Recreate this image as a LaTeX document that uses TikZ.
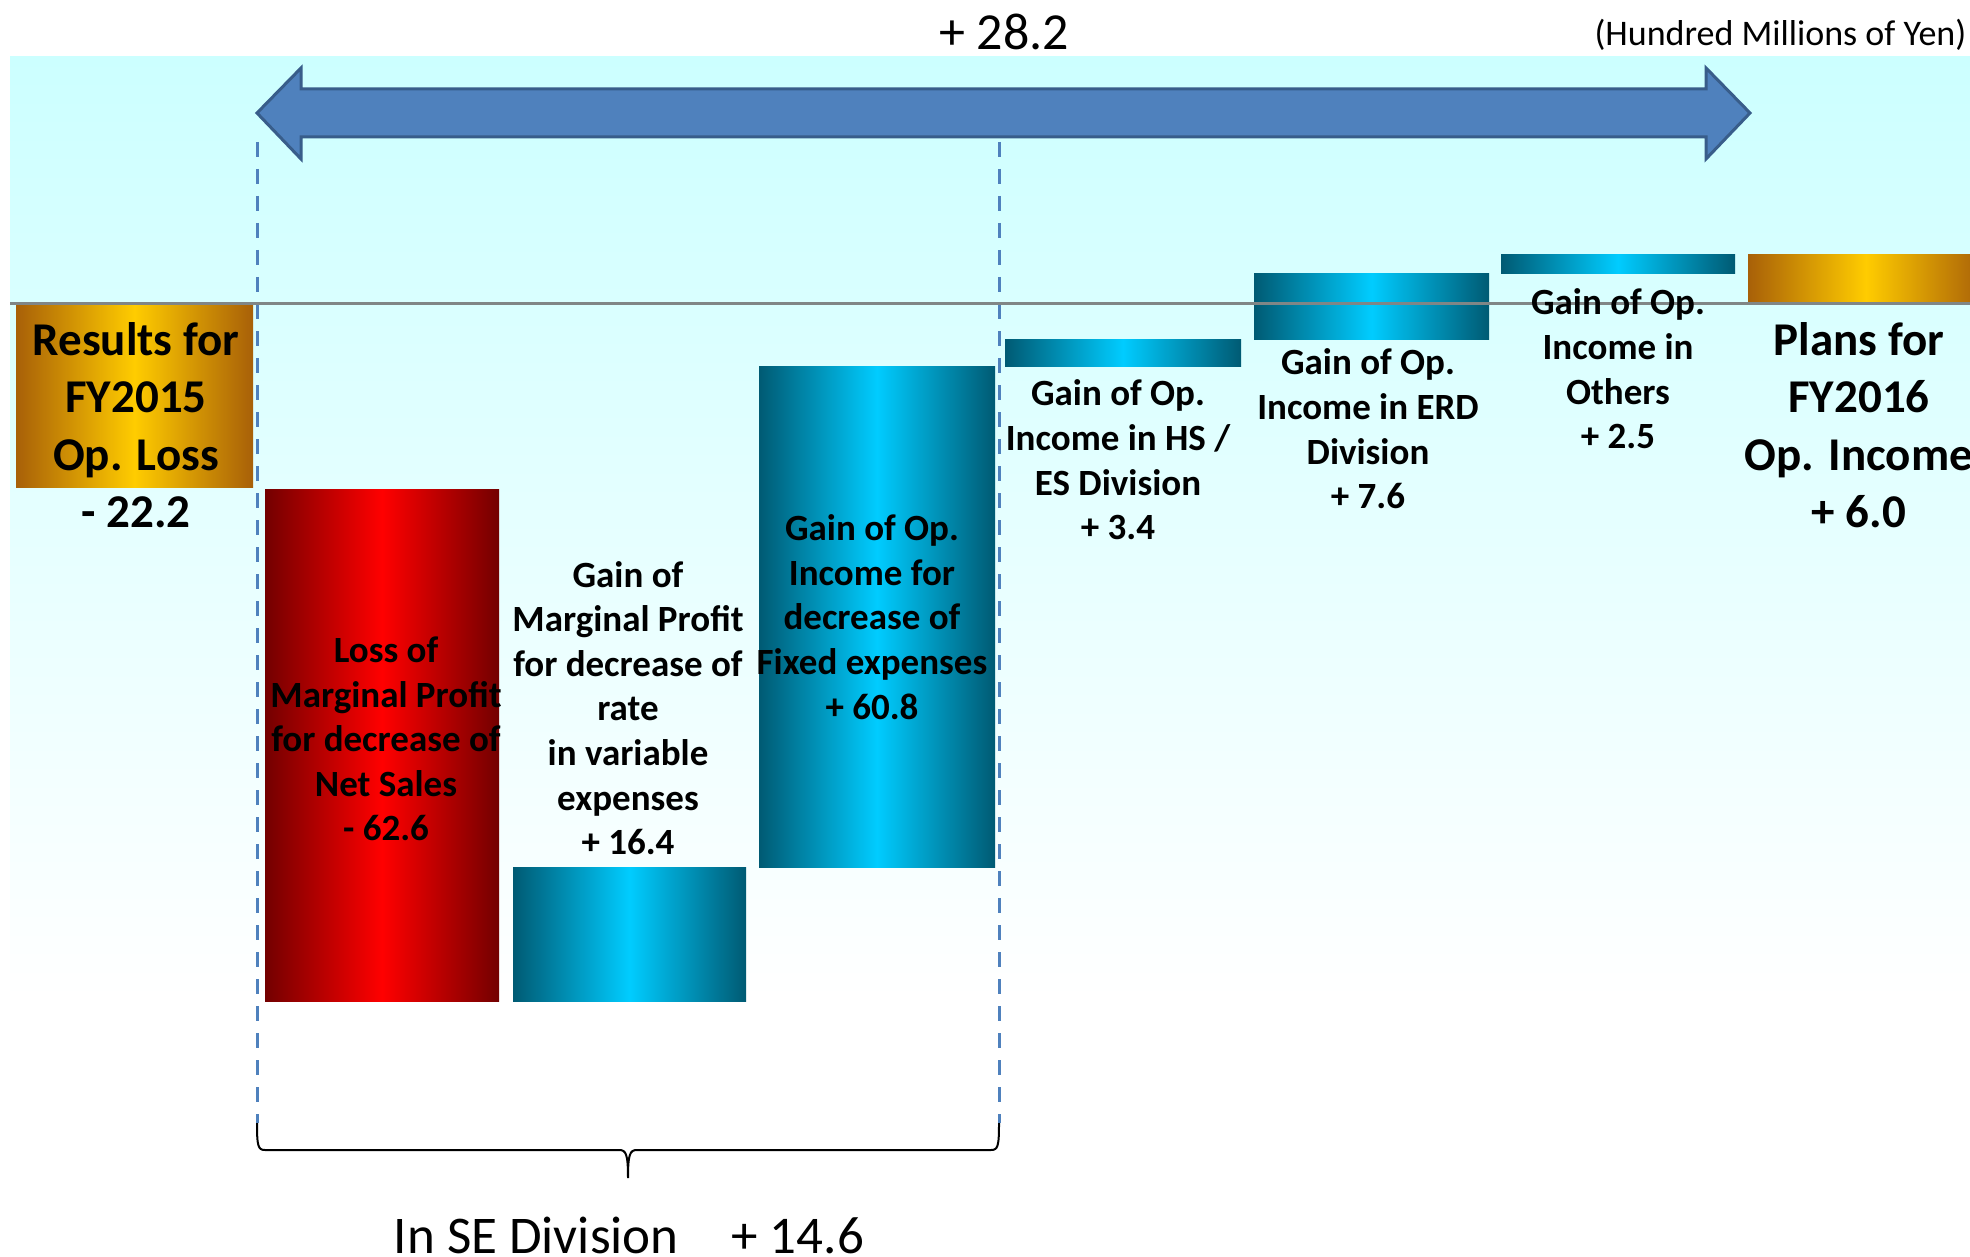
\documentclass[tikz,border=0pt]{standalone}
\usepackage{fontspec}
\setmainfont{Carlito}
\definecolor{skytop}{RGB}{204,255,255}
\definecolor{arrowblue}{HTML}{4F81BD}
\definecolor{arrowedge}{HTML}{385D8A}
\definecolor{goldmid}{RGB}{255,204,0}
\definecolor{goldedge}{RGB}{168,96,8}
\definecolor{redmid}{RGB}{255,0,0}
\definecolor{rededge}{RGB}{115,0,0}
\definecolor{tealmid}{RGB}{0,204,255}
\definecolor{tealedge}{RGB}{0,90,115}
\definecolor{zerogray}{RGB}{128,134,134}

\tikzset{
  bar/.style={anchor=north west, inner sep=0pt, outer sep=0pt},
  goldbar/.style={bar, left color=goldedge, right color=goldedge, middle color=goldmid},
  redbar/.style={bar, left color=rededge, right color=rededge, middle color=redmid},
  tealbar/.style={bar, left color=tealedge, right color=tealedge, middle color=tealmid},
  lbl/.style={align=center, inner sep=0pt, font=\fontsize{37}{44.6}\selectfont\bfseries},
  biglbl/.style={align=center, inner sep=0pt, font=\fontsize{47}{57.4}\selectfont\bfseries},
  sedash/.style={draw=arrowblue, line width=3pt, dash pattern=on 15pt off 12pt},
}

\begin{document}
\begin{tikzpicture}[x=1pt, y=-1pt]
  \clip (0,0) rectangle (1970,1257);
  % background
  \shade[top color=skytop, bottom color=white] (10,57) rectangle (1970,1000);

  % big span arrow
  \fill[arrowblue, draw=arrowedge, line width=3pt, line join=miter]
    (257,113) -- (301,68) -- (301,89) -- (1706,89) -- (1706,68) -- (1750,113)
    -- (1706,159) -- (1706,137) -- (301,137) -- (301,159) -- cycle;
  \node[font=\fontsize{52}{60}\selectfont] (span) at (1004,32) {+ 28.2};
  \node[anchor=west, font=\fontsize{36}{42}\selectfont] (unit) at (1591,35) {(Hundred Millions of Yen)};

  % dashed SE limits
  \coordinate (seLtop) at (257,142);
  \coordinate (seLbot) at (257,1123);
  \coordinate (seRtop) at (999,142);
  \coordinate (seRbot) at (999,1123);
  \draw[sedash] (seLtop) -- (seLbot);
  \draw[sedash] (seRtop) -- (seRbot);

  % bars
  \node[goldbar, minimum width=237pt, minimum height=183pt] (fy15) at (16,304) {};
  \node[redbar, minimum width=234pt, minimum height=512pt] (lossns) at (265,489) {};
  \node[tealbar, minimum width=233pt, minimum height=134pt] (gainvar) at (513,867) {};
  \node[tealbar, minimum width=236pt, minimum height=501pt] (gainfix) at (759,366) {};
  \node[tealbar, minimum width=236pt, minimum height=27pt] (gainhs) at (1005,339) {};
  \node[tealbar, minimum width=235pt, minimum height=65pt] (gainerd) at (1254,274) {};
  \node[tealbar, minimum width=234pt, minimum height=19pt] (gainoth) at (1501,255) {};
  \node[goldbar, minimum width=236pt, minimum height=49pt] (fy16) at (1748,255) {};

  % zero line
  \coordinate (zeroL) at (10,304);
  \coordinate (zeroR) at (1970,304);
  \draw[zerogray, line width=3pt] (zeroL) -- (zeroR);

  % labels
  \node[biglbl] (fy15txt) at (136,425) {Results for\\FY2015\\Op. Loss\\- 22.2};
  \node[lbl] (lossnstxt) at (386,739) {Loss of\\Marginal Profit\\for decrease of\\Net Sales\\- 62.6};
  \node[lbl] (gainvartxt) at (628,708) {Gain of\\Marginal Profit\\for decrease of\\rate\\in variable\\expenses\\+ 16.4};
  \node[lbl] (gainfixtxt) at (872,617) {Gain of Op.\\Income for\\decrease of\\Fixed expenses\\+ 60.8};
  \node[lbl] (gainhstxt) at (1118,460) {Gain of Op.\\Income in HS /\\ES Division\\+ 3.4};
  \node[lbl] (gainerdtxt) at (1368,429) {Gain of Op.\\Income in ERD\\Division\\+ 7.6};
  \node[lbl] (gainothtxt) at (1618,369) {Gain of Op.\\Income in\\Others\\+ 2.5};
  \node[biglbl] (fy16txt) at (1859,425) {Plans for\\FY2016\\Op. Income\\+ 6.0};

  % SE brace
  \coordinate (braceTip) at (628,1178);
  \draw[line width=2pt] (seLbot) .. controls (257,1146) and (258,1150) .. (265,1150)
    -- (619,1150) .. controls (626,1150) and (628,1154) .. (braceTip)
    .. controls (628,1154) and (630,1150) .. (637,1150)
    -- (991,1150) .. controls (998,1150) and (999,1146) .. (seRbot);
  \node[font=\fontsize{53}{60}\selectfont] (setotal) at (629,1235) {In SE Division\hspace{1.0em}+ 14.6};
\end{tikzpicture}
\end{document}
